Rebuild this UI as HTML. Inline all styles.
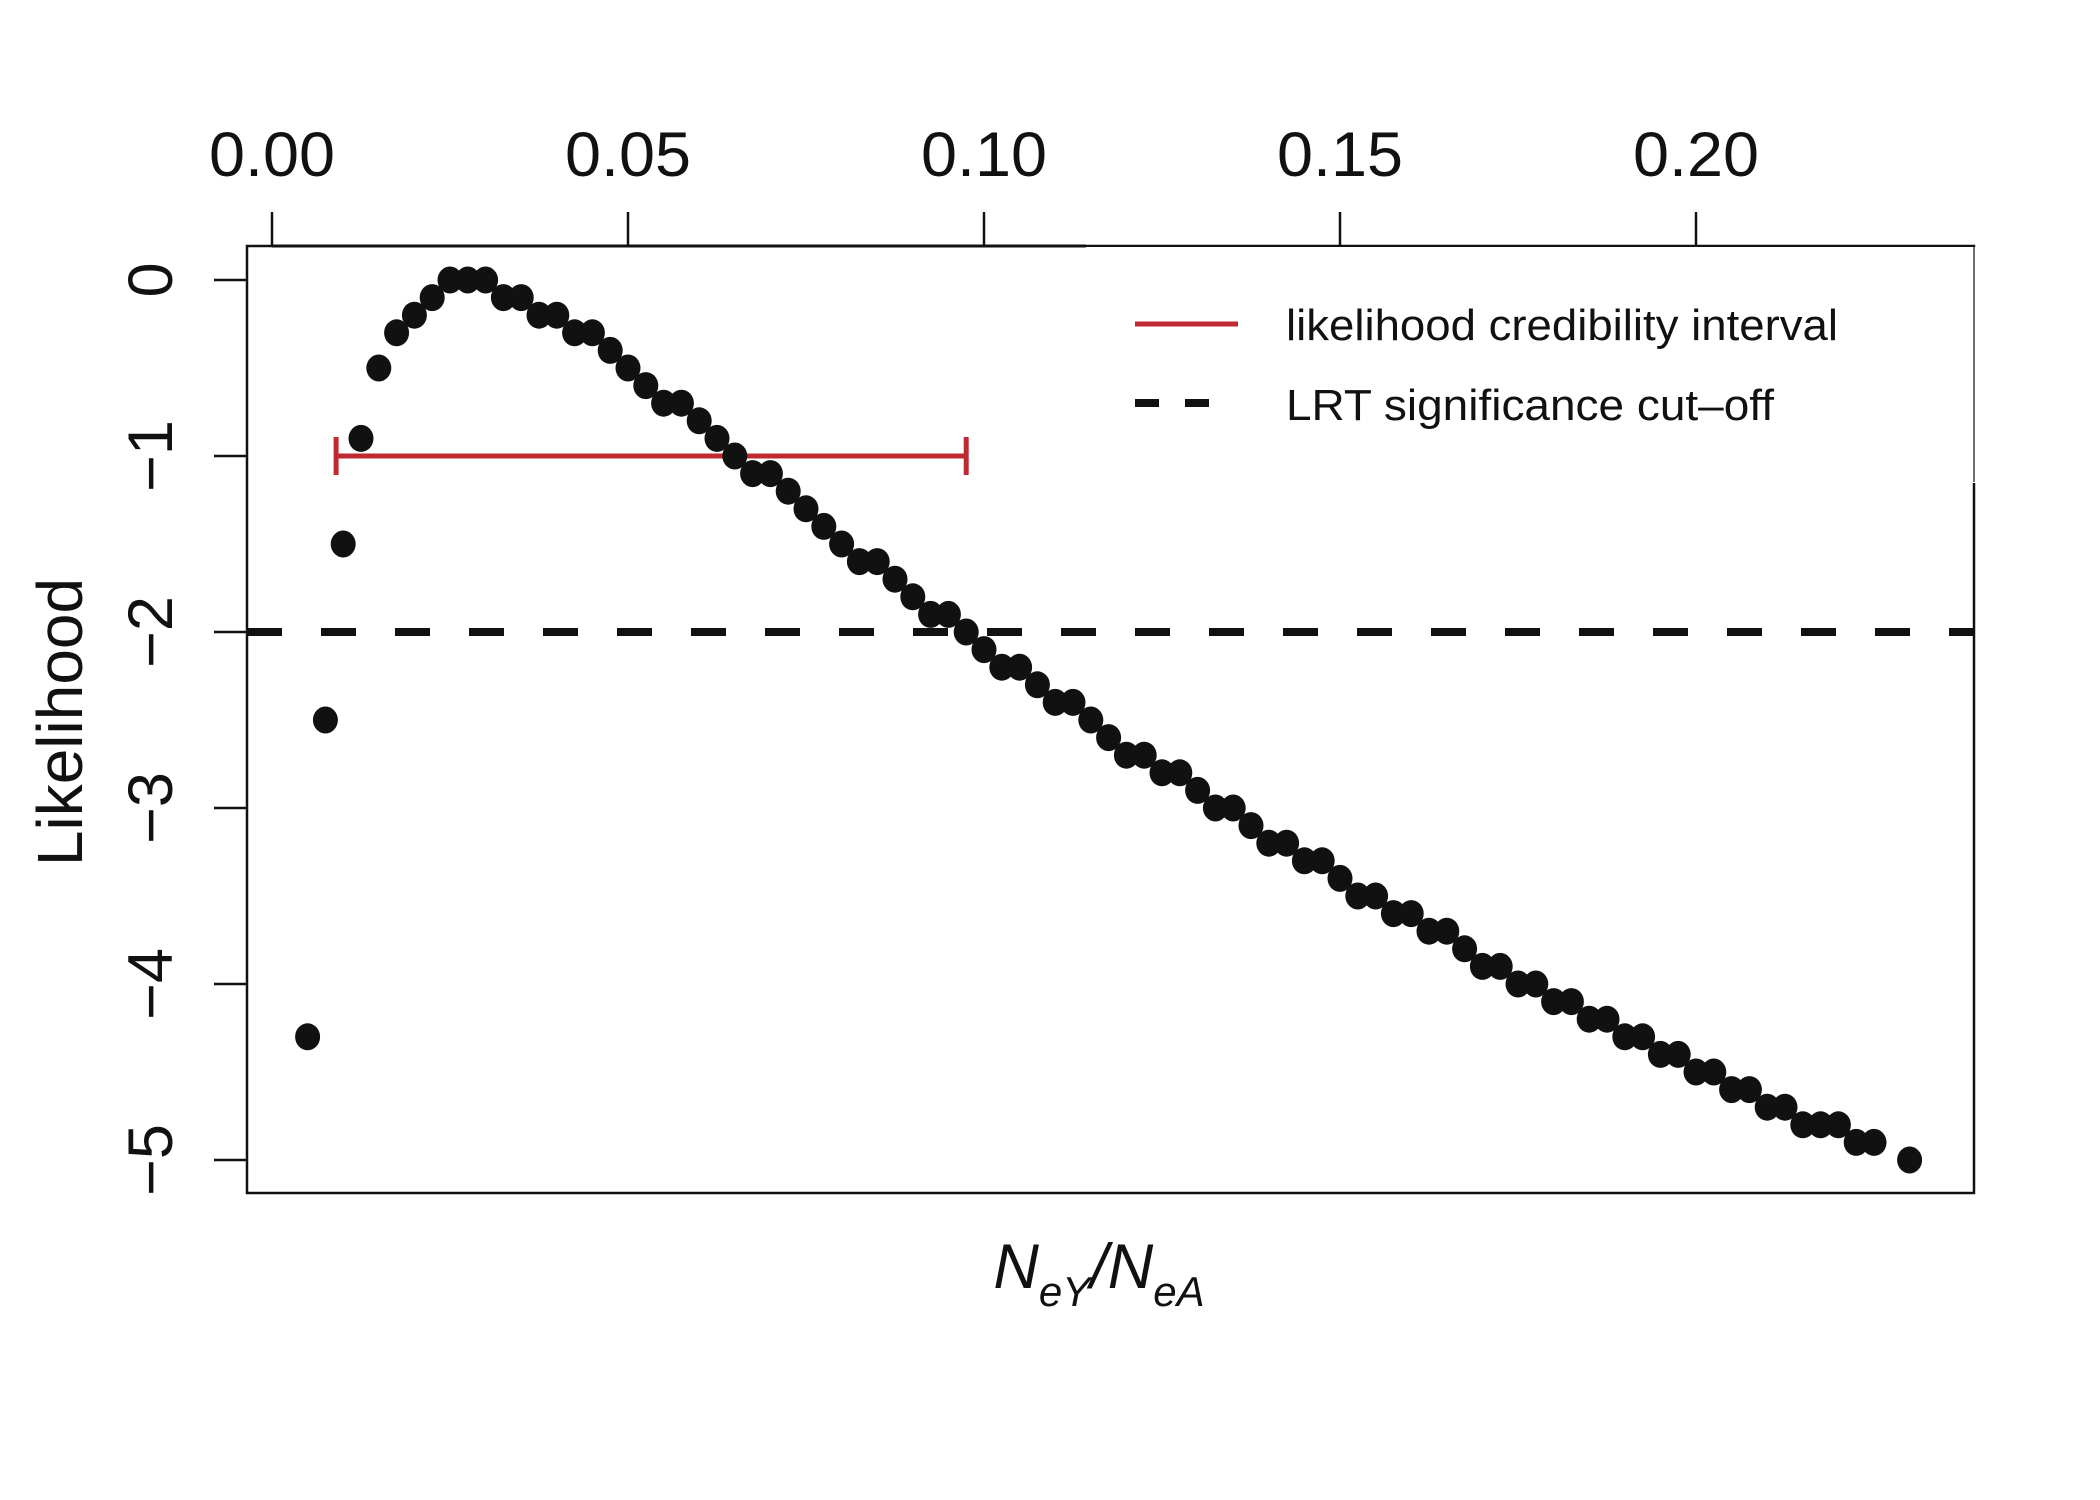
<!DOCTYPE html>
<html><head><meta charset="utf-8">
<style>
html,body{margin:0;padding:0;background:#fff;}
svg{display:block;font-family:"Liberation Sans",sans-serif;}
</style></head>
<body>
<svg id="chart" width="2100" height="1500" viewBox="0 0 2100 1500" xmlns="http://www.w3.org/2000/svg">
<rect width="2100" height="1500" fill="#fff"/>
<g id="axes"></g>
<g id="marks"></g>
<g id="legend"></g>
</svg>
<script>
const xTicks = [0.00, 0.05, 0.10, 0.15, 0.20];
const xTickLabels = ["0.00", "0.05", "0.10", "0.15", "0.20"];
const yTicks = [0, -1, -2, -3, -4, -5];
const yTickLabels = ["0", "\u22121", "\u22122", "\u22123", "\u22124", "\u22125"];
const ratioValues = [0.005,0.0075,0.01,0.0125,0.015,0.0175,0.02,0.0225,0.025,0.0275,
0.03,0.0325,0.035,0.0375,0.04,0.0425,0.045,0.0475,0.05,0.0525,
0.055,0.0575,0.06,0.0625,0.065,0.0675,0.07,0.0725,0.075,0.0775,
0.08,0.0825,0.085,0.0875,0.09,0.0925,0.095,0.0975,0.1,0.1025,
0.105,0.1075,0.11,0.1125,0.115,0.1175,0.12,0.1225,0.125,0.1275,
0.13,0.1325,0.135,0.1375,0.14,0.1425,0.145,0.1475,0.15,0.1525,
0.155,0.1575,0.16,0.1625,0.165,0.1675,0.17,0.1725,0.175,0.1775,
0.18,0.1825,0.185,0.1875,0.19,0.1925,0.195,0.1975,0.2,0.2025,
0.205,0.2075,0.21,0.2125,0.215,0.2175,0.22,0.2225,0.225,0.23];
const likelihoodValues = [-4.3,-2.5,-1.5,-0.9,-0.5,-0.3,-0.2,-0.1,0,0,
0,-0.1,-0.1,-0.2,-0.2,-0.3,-0.3,-0.4,-0.5,-0.6,
-0.7,-0.7,-0.8,-0.9,-1.0,-1.1,-1.1,-1.2,-1.3,-1.4,
-1.5,-1.6,-1.6,-1.7,-1.8,-1.9,-1.9,-2.0,-2.1,-2.2,
-2.2,-2.3,-2.4,-2.4,-2.5,-2.6,-2.7,-2.7,-2.8,-2.8,
-2.9,-3.0,-3.0,-3.1,-3.2,-3.2,-3.3,-3.3,-3.4,-3.5,
-3.5,-3.6,-3.6,-3.7,-3.7,-3.8,-3.9,-3.9,-4.0,-4.0,
-4.1,-4.1,-4.2,-4.2,-4.3,-4.3,-4.4,-4.4,-4.5,-4.5,
-4.6,-4.6,-4.7,-4.7,-4.8,-4.8,-4.8,-4.9,-4.9,-5.0];
const intervalBounds = [0.009, 0.0975];
const intervalLevel = [-1];
const cutoffLevel = [-2];

const NS = "http://www.w3.org/2000/svg";
const X0 = 272, XS = 7120, Y0 = 280, YS = 176;
function xs(v){ return X0 + v * XS; }
function ys(v){ return Y0 - v * YS; }
function mk(tag, attrs, parent, text){
  const e = document.createElementNS(NS, tag);
  for (const k in attrs) e.setAttribute(k, attrs[k]);
  if (text !== undefined) e.textContent = text;
  parent.appendChild(e);
  return e;
}
const axes = document.getElementById('axes');
const marks = document.getElementById('marks');
const legend = document.getElementById('legend');
const L = 247, R = 1974, T = 246, B = 1193;

const box = mk('rect', {x:L, y:T, width:R-L, height:B-T, fill:'none', stroke:'#111', 'stroke-width':2.5}, axes);



const cut = mk('line', {x1:L, x2:R, y1:ys(cutoffLevel[0]), y2:ys(cutoffLevel[0]), stroke:'#111', 'stroke-width':8, 'stroke-dasharray':'35 39', 'stroke-linecap':'butt'}, marks);



const iy = ys(intervalLevel[0]);
const ig = mk('g', {stroke:'#bf2a32', 'stroke-width':5}, marks);


mk('line', {x1:xs(intervalBounds[0]), x2:xs(intervalBounds[1]), y1:iy, y2:iy}, ig);
mk('line', {x1:xs(intervalBounds[0]), x2:xs(intervalBounds[0]), y1:iy-19, y2:iy+19}, ig);
mk('line', {x1:xs(intervalBounds[1]), x2:xs(intervalBounds[1]), y1:iy-19, y2:iy+19}, ig);

for (let i = 0; i < ratioValues.length; i++){
  const c = mk('ellipse', {cx:xs(ratioValues[i]), cy:ys(likelihoodValues[i]), rx:12.5, ry:13.5, fill:'#111'}, marks);
  
  
}

const lb = mk('rect', {x:1086, y:T+1, width:R-1086+8, height:482-T, fill:'#fff'}, legend);


mk('line', {x1:1086, x2:R, y1:T, y2:T, stroke:'#111', 'stroke-width':1.5}, legend);
mk('line', {x1:R, x2:R, y1:T, y2:482, stroke:'#111', 'stroke-width':1.2}, legend);
const le1 = mk('line', {x1:1135, x2:1238, y1:324, y2:324, stroke:'#bf2a32', 'stroke-width':5}, legend);


const lt1 = mk('text', {x:1286, y:340, 'font-size':44, fill:'#111', textLength:552, lengthAdjust:'spacingAndGlyphs'}, legend, 'likelihood credibility interval');


const le2 = mk('line', {x1:1135, x2:1210, y1:403, y2:403, stroke:'#111', 'stroke-width':8, 'stroke-dasharray':'24 26'}, legend);


const lt2 = mk('text', {x:1286, y:420, 'font-size':44, fill:'#111', textLength:488, lengthAdjust:'spacingAndGlyphs'}, legend, 'LRT significance cut\u2013off');



const topAxis = mk('line', {x1:xs(xTicks[0]), x2:1086, y1:T, y2:T, stroke:'#111', 'stroke-width':3}, axes);


for (let i = 0; i < xTicks.length; i++){
  const x = xs(xTicks[i]);
  const tk = mk('line', {x1:x, x2:x, y1:T, y2:T-34, stroke:'#111', 'stroke-width':2.5}, axes);
  
  
  const tl = mk('text', {x:x, y:176, 'font-size':63, 'text-anchor':'middle', fill:'#111', textLength:126, lengthAdjust:'spacingAndGlyphs'}, axes, xTickLabels[i]);
  
  
}

for (let i = 0; i < yTicks.length; i++){
  const y = ys(yTicks[i]);
  const tk = mk('line', {x1:L, x2:L-33, y1:y, y2:y, stroke:'#111', 'stroke-width':2.5}, axes);
  
  
  const tl = mk('text', {x:0, y:0, 'font-size':63, 'text-anchor':'middle', fill:'#111', transform:'translate(172,'+y+') rotate(-90)'}, axes, yTickLabels[i]);
  
  
}

const yt = mk('text', {x:0, y:0, 'font-size':64, 'text-anchor':'middle', fill:'#111', transform:'translate(82,722) rotate(-90)'}, axes, 'Likelihood');



const xt = mk('text', {x:1099, y:1288, 'font-size':63, 'text-anchor':'middle', fill:'#111', 'font-style':'italic'}, axes);


mk('tspan', {}, xt, 'N');
mk('tspan', {'font-size':42, dy:18}, xt, 'eY');
mk('tspan', {dy:-18}, xt, '/N');
mk('tspan', {'font-size':42, dy:18}, xt, 'eA');
</script>
</body></html>
